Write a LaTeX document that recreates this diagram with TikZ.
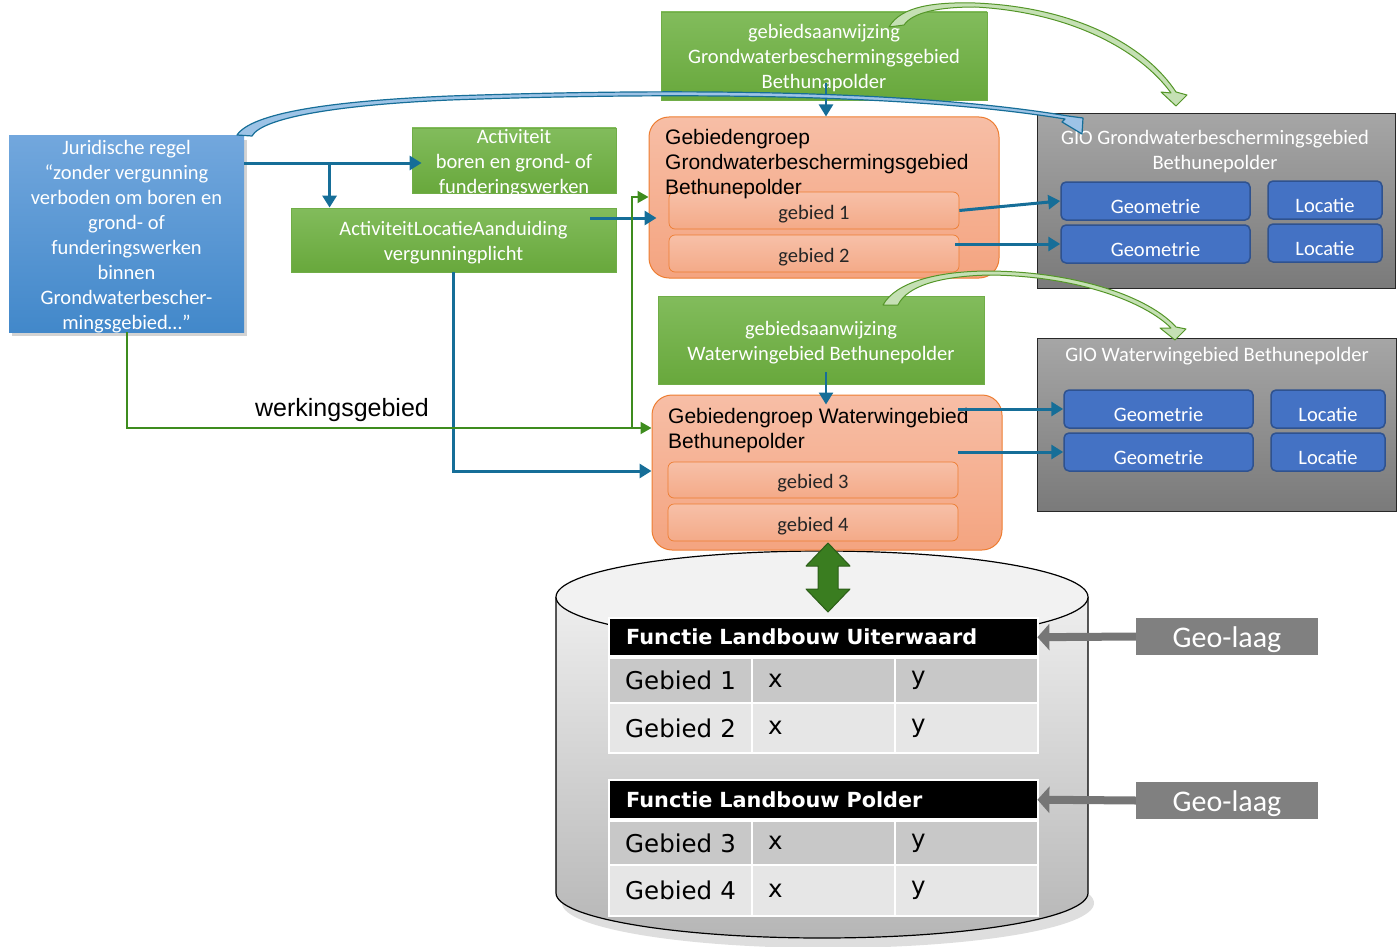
\documentclass[tikz,border=0pt]{standalone}
\usepackage{fontspec}
\setmainfont{Carlito}
\newfontfamily\arialf{Liberation Sans}
\newfontfamily\verdf{DejaVu Sans}
\usetikzlibrary{arrows.meta,shadows,calc}
\newcommand{\myfs}[2]{\fontsize{#1}{#2}\selectfont}
\definecolor{gtop}{RGB}{130,188,92}
\definecolor{gbot}{RGB}{104,168,60}
\definecolor{gbord}{RGB}{112,173,71}
\definecolor{btop}{RGB}{114,167,221}
\definecolor{bbot}{RGB}{66,136,202}
\definecolor{otop}{RGB}{247,190,166}
\definecolor{obot}{RGB}{244,164,128}
\definecolor{obord}{RGB}{237,125,49}
\definecolor{stop}{RGB}{247,192,168}
\definecolor{sbot}{RGB}{244,170,136}
\definecolor{giotop}{RGB}{166,166,166}
\definecolor{giobot}{RGB}{122,122,122}
\definecolor{gioborder}{RGB}{40,40,40}
\definecolor{geofill}{RGB}{68,114,196}
\definecolor{geobord}{RGB}{47,82,143}
\definecolor{cblue}{RGB}{22,110,152}
\definecolor{lblue}{RGB}{157,195,230}
\definecolor{cgreen}{RGB}{62,140,30}
\definecolor{rgreen}{RGB}{84,150,40}
\definecolor{lgreen}{RGB}{197,224,180}
\definecolor{dgreen}{RGB}{58,125,32}
\definecolor{rowa}{RGB}{200,200,200}
\definecolor{rowb}{RGB}{230,230,230}
\definecolor{geolaag}{RGB}{128,128,128}
\definecolor{garr}{RGB}{118,118,118}
\definecolor{cyla}{RGB}{238,238,238}
\definecolor{cylb}{RGB}{182,182,182}
\definecolor{cyltop}{RGB}{242,242,242}
\definecolor{txtdark}{RGB}{38,38,38}
\tikzset{
  boxtext/.style={font=\myfs{20.5}{25}, align=center, inner sep=0pt},
  greenbox/.style={draw=gbord, line width=0.8pt, top color=gtop, bottom color=gbot, inner sep=0pt},
  wtext/.style={text=white, boxtext},
  bluebox/.style={top color=btop, bottom color=bbot, inner sep=0pt,
     drop shadow={shadow xshift=3pt, shadow yshift=-4pt, opacity=0.35}},
  orangebox/.style={draw=obord, line width=1pt, rounded corners=20pt, top color=otop, bottom color=obot, inner sep=0pt},
  subbox/.style={draw=obord, line width=0.7pt, rounded corners=6pt, top color=stop, bottom color=sbot, text=txtdark, boxtext, minimum width=290pt, text height=18pt, text depth=1pt},
  titletext/.style={font=\arialf\myfs{21}{25}, align=left, inner sep=0pt, anchor=west, text=black},
  giobox/.style={draw=gioborder, line width=1pt, top color=giotop, bottom color=giobot, inner sep=0pt},
  geobox/.style={draw=geobord, line width=1.5pt, fill=geofill, rounded corners=5pt, text=white, boxtext, minimum height=38pt, text height=25pt, text depth=1pt},
  conn/.style={draw=cblue, line width=3pt, -{Triangle[width=14pt,length=12pt]}},
  gconn/.style={draw=cgreen, line width=2pt, -{Triangle[width=12pt,length=11pt]}},
  garrow/.style={draw=garr, line width=8pt, -{Triangle[width=26pt,length=12pt]}},
  thead/.style={fill=black, text=white, font=\verdf\bfseries\myfs{20.8}{24}, align=left, text width=395pt, inner xsep=16pt, inner ysep=0pt, minimum height=36pt, anchor=north west},
  cella/.style={fill=rowa, text=black, font=\verdf\myfs{24.5}{28}, align=left, text width=111pt, inner xsep=15pt, inner ysep=0pt, anchor=north west},
  cellb/.style={cella, fill=rowb},
  geolaagbox/.style={fill=geolaag, text=white, font=\myfs{30}{34}, minimum width=182pt, minimum height=37pt, inner sep=0pt, text height=24pt, text depth=2pt},
  ribbonG/.style={draw=rgreen, fill=lgreen, line width=1pt, line join=round},
  ribbonB/.style={draw=cblue, fill=lblue, line width=1.2pt, line join=round}
}
\begin{document}
\begin{tikzpicture}[x=1pt,y=-1pt]
\useasboundingbox (0,0) rectangle (1397,947);

% ---------- cylinder ----------
\fill[black, opacity=0.13] (828,903) ellipse[x radius=266, y radius=45];
\path[top color=cyla, bottom color=cylb, draw=black, line width=1.2pt]
  (556,597) -- (556,893) arc[start angle=180, end angle=0, x radius=266, y radius=45] -- (1088,597);
\draw[fill=cyltop, line width=1.2pt] (822,597) ellipse[x radius=266, y radius=46];

% ---------- tables ----------
\fill[white] (608,617) rectangle (1039,754);
\node[thead] (t1h) at (610,619) {Functie Landbouw Uiterwaard};
\node[cella, minimum height=43pt] (t1a1) at (610,659) {Gebied 1};
\node[cella, minimum height=43pt] (t1a2) at (753,659) {x};
\node[cella, minimum height=43pt] (t1a3) at (896,659) {y};
\node[cellb, minimum height=48pt] (t1b1) at (610,704) {Gebied 2};
\node[cellb, minimum height=48pt] (t1b2) at (753,704) {x};
\node[cellb, minimum height=48pt] (t1b3) at (896,704) {y};

\fill[white] (608,779) rectangle (1039,917);
\node[thead, minimum height=37pt] (t2h) at (610,781) {Functie Landbouw Polder};
\node[cella, minimum height=42pt] (t2a1) at (610,822) {Gebied 3};
\node[cella, minimum height=42pt] (t2a2) at (753,822) {x};
\node[cella, minimum height=42pt] (t2a3) at (896,822) {y};
\node[cellb, minimum height=49pt] (t2b1) at (610,866) {Gebied 4};
\node[cellb, minimum height=49pt] (t2b2) at (753,866) {x};
\node[cellb, minimum height=49pt] (t2b3) at (896,866) {y};

% ---------- Geo-laag ----------
\node[geolaagbox] (gl1) at (1227,636.5) {Geo-laag};
\node[geolaagbox] (gl2) at (1227,800.5) {Geo-laag};
\draw[garrow] (gl1.west) -- (t1h.east);
\draw[garrow] (gl2.west) -- (t2h.east);

% ---------- left boxes ----------
\node[bluebox, minimum width=235pt, minimum height=196pt] (jur) at (126.5,234) {};
\node[wtext] (jurt) at (126.5,237)
  {Juridische regel\\“zonder vergunning\\verboden om boren en\\grond- of\\funderingswerken\\binnen\\Grondwaterbescher-\\mingsgebied…”};
\node[greenbox, minimum width=204pt, minimum height=65pt] (act) at (514,160.5) {};
\node[wtext] (actt) at (514,163.5) {Activiteit\\boren en grond- of\\funderingswerken};
\node[greenbox, minimum width=325pt, minimum height=64pt] (loc) at (453.5,240) {};
\node[wtext] (loct) at (453.5,243) {ActiviteitLocatieAanduiding\\vergunningplicht};

% ---------- gebiedsaanwijzing ----------
\node[greenbox, minimum width=326pt, minimum height=88pt] (ga1) at (824,56) {};
\node[wtext] (ga1t) at (824,58.5) {gebiedsaanwijzing\\Grondwaterbeschermingsgebied\\Bethunapolder};
\node[greenbox, minimum width=326pt, minimum height=88pt] (ga2) at (821,340) {};
\node[wtext] (ga2t) at (821,343) {gebiedsaanwijzing\\Waterwingebied Bethunepolder};

% ---------- gebiedengroepen ----------
\node[orangebox, minimum width=350pt, minimum height=161pt] (og1) at (824,197.5) {};
\node[subbox, minimum height=37pt] (g1) at (814,210.5) {gebied 1};
\node[subbox, minimum height=37pt] (g2) at (814,253.5) {gebied 2};
\node[titletext] (og1t) at (665,164) {Gebiedengroep\\Grondwaterbeschermingsgebied\\Bethunepolder};

\node[orangebox, minimum width=350pt, minimum height=155pt] (og2) at (827,472.5) {};
\node[subbox, minimum height=36pt] (g3) at (813,480) {gebied 3};
\node[subbox, minimum height=37pt] (g4) at (813,522.5) {gebied 4};
\node[titletext] (og2t) at (668,431) {Gebiedengroep Waterwingebied\\Bethunepolder};

% ---------- GIO boxes ----------
\node[giobox, minimum width=358pt, minimum height=174pt] (gio1) at (1216,201) {};
\node[wtext] (gio1t) at (1215,151.5) {GIO Grondwaterbeschermingsgebied\\Bethunepolder};
\node[geobox, minimum width=189pt] (geo1) at (1155.5,201) {Geometrie};
\node[geobox, minimum width=189pt] (geo2) at (1155.5,244) {Geometrie};
\node[geobox, minimum width=114pt] (loc1) at (1325,200) {Locatie};
\node[geobox, minimum width=114pt] (loc2) at (1325,243) {Locatie};

\node[giobox, minimum width=359pt, minimum height=173pt] (gio2) at (1216.5,424.5) {};
\node[wtext] (gio2t) at (1217,356) {GIO Waterwingebied Bethunepolder};
\node[geobox, minimum width=189pt] (geo3) at (1158.5,409) {Geometrie};
\node[geobox, minimum width=189pt] (geo4) at (1158.5,452) {Geometrie};
\node[geobox, minimum width=114pt] (loc3) at (1328,409) {Locatie};
\node[geobox, minimum width=114pt] (loc4) at (1328,452) {Locatie};

% ---------- double arrow ----------
\draw[fill=dgreen, draw=dgreen!75!black, line width=1pt, line join=round]
  (828,543) -- (850,566) -- (838,566) -- (838,589) -- (850,589) -- (828,612)
  -- (806,589) -- (818,589) -- (818,566) -- (806,566) -- cycle;

% ---------- connectors ----------
\coordinate (ja) at ($(jur.east |- act.west)+(0,2.5)$);
\draw[conn] (ja) -- ($(act.west)+(10,2.5)$);
\coordinate (br1) at ($(ja)!0.51!(act.west |- ja)$);
\draw[conn] (br1) -- (br1 |- loc.north);
\coordinate (la) at ($(loc.east)+(-26,-22)$);
\draw[conn] (la) -- ($(og1.west |- la)+(8,0)$);
\draw[conn] (loc.south) |- ($(og2.west)+(0,-1.5)$);

\coordinate (wk) at ($(og2.west)+(0,-44.5)$);
\draw[gconn] (jur.south) |- (wk);
\coordinate (gb) at ($(wk)+(-20,0)$);
\draw[gconn] (gb) |- ($(og1.west)+(0,-0.5)$);
\node[font=\arialf\myfs{25}{28}, inner sep=0pt] (wg) at (342,410) {werkingsgebied};

\draw[conn, line width=2.5pt] ($(ga1.south)+(2,-17)$) -- ($(og1.north)+(2,0)$);
\draw[conn, line width=2.5pt] ($(ga2.south)+(5,-12)$) -- ($(og2.north)+(-1,10)$);

\draw[conn] (g1.east) -- (geo1.west);
\draw[conn] ($(g2.east)+(-4,-9.5)$) -- (geo2.west);
\draw[conn] (g3.east |- geo3.west) -- (geo3.west);
\draw[conn] (g3.east |- geo4.west) -- (geo4.west);

% ---------- curved ribbon arrows ----------
\filldraw[ribbonB] (237,135) .. controls (252,113) and (330,101) .. (450,96)
  .. controls (650,89) and (900,88) .. (1068,116)
  -- (1083,118) -- (1082,134) -- (1062,122) -- (1065,119)
  .. controls (900,92) and (650,93) .. (450,100)
  .. controls (335,105) and (262,118) .. (252,136) -- cycle;

\filldraw[ribbonG] (889,27) .. controls (901,6) and (935,2) .. (975,3)
  .. controls (1075,7) and (1145,45) .. (1176,92)
  -- (1187,95) -- (1176,106) -- (1161,92) -- (1171,93)
  .. controls (1140,50) and (1070,12) .. (975,7)
  .. controls (940,7) and (913,12) .. (904,25) -- cycle;

\filldraw[ribbonG] (883,305) .. controls (895,283) and (935,271) .. (990,271)
  .. controls (1080,272) and (1150,298) .. (1176,327)
  -- (1186,329) -- (1175,340) -- (1160,328) -- (1171,328)
  .. controls (1145,302) and (1078,276) .. (990,275)
  .. controls (940,276) and (907,286) .. (898,305) -- cycle;
\end{tikzpicture}
\end{document}
